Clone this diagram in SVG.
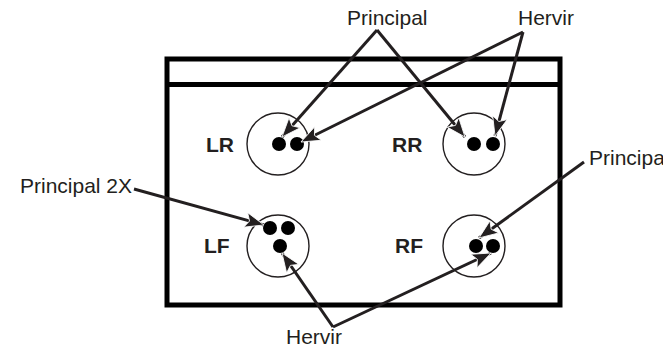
<svg xmlns="http://www.w3.org/2000/svg" width="663" height="348" viewBox="0 0 663 348">
<style>
.lbl{font-family:"Liberation Sans",Arial,sans-serif;font-size:21px;fill:#231f20}
.pos{font-family:"Liberation Sans",Arial,sans-serif;font-size:21px;font-weight:bold;fill:#231f20}
.ring{fill:#fff;stroke:#231f20;stroke-width:1.4}
.dot{fill:#000}
.ar{fill:none;stroke:#231f20;stroke-width:3;marker-end:url(#ah)}
</style>
<defs>
<marker id="ah" markerUnits="userSpaceOnUse" markerWidth="24" markerHeight="18" refX="19" refY="8" orient="auto" viewBox="0 0 24 16">
<path d="M0,0.5 L19,8 L0,15.5 L4,8 Z" fill="#231f20" stroke="#fff" stroke-width="0.8"/>
</marker>
</defs>
<g id="stove">
<rect x="167" y="59" width="393" height="246" fill="#fff" stroke="#000" stroke-width="5"/>
<line x1="167" y1="84.5" x2="560" y2="84.5" stroke="#000" stroke-width="5"/>
</g>
<g id="LR">
<circle class="ring" cx="278" cy="144" r="31"/>
<circle class="dot" cx="279" cy="144" r="7"/>
<circle class="dot" cx="297" cy="144" r="7"/>
<text class="pos" x="206" y="152">LR</text>
</g>
<g id="RR">
<circle class="ring" cx="474" cy="144" r="31"/>
<circle class="dot" cx="474" cy="144" r="7"/>
<circle class="dot" cx="493" cy="144" r="7"/>
<text class="pos" x="392" y="152">RR</text>
</g>
<g id="LF">
<circle class="ring" cx="278" cy="246" r="31"/>
<circle class="dot" cx="270" cy="228" r="7"/>
<circle class="dot" cx="288" cy="228" r="7"/>
<circle class="dot" cx="280" cy="246" r="7"/>
<text class="pos" x="204" y="253">LF</text>
</g>
<g id="RF">
<circle class="ring" cx="474" cy="246" r="31"/>
<circle class="dot" cx="476" cy="246" r="7"/>
<circle class="dot" cx="493" cy="246" r="7"/>
<text class="pos" x="395" y="253">RF</text>
</g>
<g id="labels">
<text class="lbl" x="347" y="25">Principal</text>
<text class="lbl" x="518" y="25">Hervir</text>
<text class="lbl" x="20" y="193">Principal 2X</text>
<text class="lbl" x="589" y="165">Principal</text>
<text class="lbl" x="286" y="344">Hervir</text>
</g>
<g id="connectors">
<path class="ar" d="M377,30 L282,137"/>
<path class="ar" d="M377,30 L465,137"/>
<path class="ar" d="M523,32 L301,142"/>
<path class="ar" d="M523,32 L495,136"/>
<path class="ar" d="M134,189 L264,225"/>
<path class="ar" d="M584,162 L479,238"/>
<path class="ar" d="M333,327 L282,253"/>
<path class="ar" d="M333,327 L491,253"/>
</g>
</svg>
